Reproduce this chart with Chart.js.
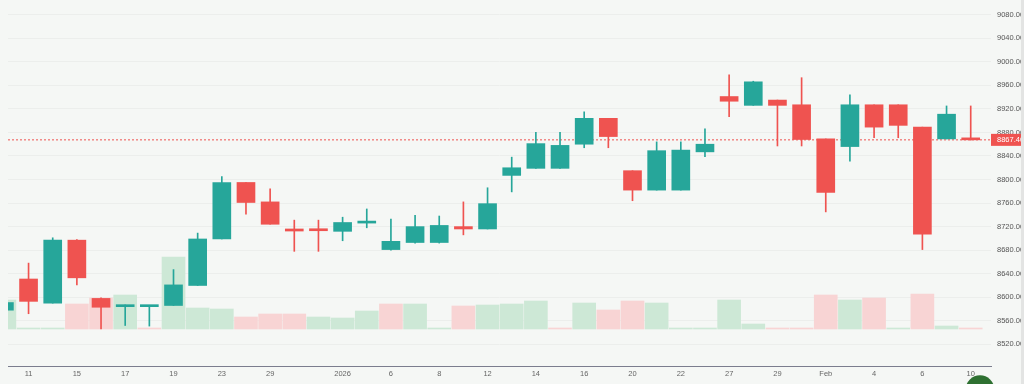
<!DOCTYPE html>
<html><head><meta charset="utf-8">
<script src="https://cdn.jsdelivr.net/npm/chart.js@4.4.1/dist/chart.umd.min.js"></script>
<style>html,body{margin:0;padding:0;background:#f5f7f5;overflow:hidden}#wrap{width:1024px;height:384px;position:relative}</style>
</head><body><div id="wrap"><canvas id="c" width="1024" height="384"></canvas></div>
<script>
// ---- data ----
const categories = ['Dec 10','Dec 11','Dec 12','Dec 15','Dec 16','Dec 17','Dec 18','Dec 19','Dec 22','Dec 23',
  'Dec 24','Dec 29','Dec 30','Dec 31','Jan 1','Jan 2','Jan 6','Jan 7','Jan 8','Jan 9',
  'Jan 12','Jan 13','Jan 14','Jan 15','Jan 16','Jan 19','Jan 20','Jan 21','Jan 22','Jan 23',
  'Jan 27','Jan 28','Jan 29','Jan 30','Feb 2','Feb 3','Feb 4','Feb 5','Feb 6','Feb 9','Feb 10'];
const tickLabels = ['','11','','15','','17','','19','','23',
  '','29','','','2026','','6','','8','',
  '12','','14','','16','','20','','22','',
  '27','','29','','Feb','','4','','6','','10'];
const open  = [8578,8631,8590,8697,8598,8584,8584,8586,8620,8699,
  8795,8762,8716,8716,8712,8726,8681,8693,8693,8720,
  8716,8807,8819,8819,8860,8904,8815,8782,8782,8847,
  8941,8926,8935,8927,8869,8856,8927,8927,8889,8869,8870.5];
const high  = [8592,8658,8701,8698,8599,8587,8586,8647,8709,8805,
  8795,8784,8731,8731,8736,8750,8733,8739,8738,8762,
  8786,8838,8880,8880,8915,8904,8815,8864,8864,8886,
  8978,8967,8935,8973,8869,8944,8927,8927,8889,8925,8925];
const low   = [8577,8572,8590,8621,8546,8552,8551,8586,8620,8699,
  8741,8724,8678,8678,8696,8718,8680,8692,8692,8706,
  8716,8779,8819,8819,8854,8854,8764,8782,8782,8839,
  8907,8926,8857,8857,8745,8831,8871,8871,8681,8869,8867];
const close = [8591,8593,8697,8633,8583,8586,8585,8621,8699,8795,
  8761,8724,8712.5,8713,8727,8728,8695,8720,8722,8716,
  8759,8820,8861,8858,8904,8873,8782,8849,8850,8860,
  8933,8966,8926,8868,8778,8927,8889,8892,8707,8911,8867.4];
const volumeK = [29,1,1,25,31,34,1,72,21,20,
  12,15,15,12,11,18,25,25,1,23,
  24,25,28,1,26,19,28,26,1,1,
  29,5,1,1,34,29,31,1,35,3,1];
const lastPrice = 8867.4;
const priceTicks = [8520,8560,8600,8640,8680,8720,8760,8800,8840,8880,8920,8960,9000,9040,9080];

// ---- styling ----
const UP = '#26a69a', DOWN = '#ef5350';
const VUP = '#cde8d6', VDOWN = '#f8d4d4';
const FONT = {family: 'Liberation Sans', size: 7.5};

const idx = categories.map((_, i) => i);
const bodyData = idx.map(i => ({x: i, y: [open[i], close[i]]}));
const wickData = idx.map(i => ({x: i, y: [low[i], high[i]]}));
const volData = idx.map(i => ({x: i, y: volumeK[i]}));
const candleColors = idx.map(i => close[i] >= open[i] ? UP : DOWN);
const volColors = idx.map(i => (i === 0 || close[i] >= close[i - 1]) ? VUP : VDOWN);

const X_MIN = 0.149, X_MAX = 40.84;

const decor = {
  id: 'decor',
  beforeDraw(chart) {
    const ctx = chart.ctx;
    ctx.save();
    ctx.fillStyle = '#f5f7f5';
    ctx.fillRect(0, 0, chart.width, chart.height);
    ctx.restore();
  },
  afterDraw(chart) {
    const ctx = chart.ctx;
    const y = chart.scales.y.getPixelForValue(lastPrice);
    const x0 = chart.chartArea.right;
    ctx.save();
    ctx.fillStyle = DOWN;
    ctx.fillRect(x0, y - 6, chart.width - x0, 12);
    ctx.fillStyle = '#ffffff';
    ctx.font = '7.5px "Liberation Sans"';
    ctx.textBaseline = 'middle';
    ctx.fillText(lastPrice.toFixed(2), x0 + 6, y + 0.5);
    ctx.fillStyle = '#e3e4e3';
    ctx.fillRect(1021, 0, 3, chart.height);
    ctx.fillStyle = '#2e7031';
    ctx.beginPath();
    ctx.arc(980, 389.5, 14.3, 0, Math.PI * 2);
    ctx.fill();
    ctx.restore();
  }
};

new Chart(document.getElementById('c'), {
  type: 'bar',
  data: {
    datasets: [
      { type: 'line', data: [{x: X_MIN, y: lastPrice}, {x: X_MAX, y: lastPrice}], yAxisID: 'y',
        borderColor: DOWN, borderWidth: 1, borderDash: [2, 2], pointRadius: 0, order: 5 },
      { label: 'Volume', data: volData, yAxisID: 'yv', backgroundColor: volColors,
        barThickness: 23, grouped: false, order: 4 },
      { label: 'Wick', data: wickData, yAxisID: 'y', backgroundColor: candleColors,
        barThickness: 1, grouped: false, order: 2 },
      { label: 'Body', data: bodyData, yAxisID: 'y', backgroundColor: candleColors,
        barThickness: 18, grouped: false, minBarLength: 2, order: 1 }
    ]
  },
  options: {
    responsive: false,
    animation: false,
    layout: { padding: { left: 8, right: 0, top: 0, bottom: 0 } },
    plugins: { legend: { display: false }, tooltip: { enabled: false } },
    scales: {
      x: {
        type: 'linear', min: X_MIN, max: X_MAX, offset: false,
        grid: { display: false, offset: false, drawTicks: false },
        border: { display: true, color: '#7b7d8e', width: 1 },
        afterBuildTicks: s => { s.ticks = tickLabels.map((t, i) => t ? {value: i} : null).filter(Boolean); },
        ticks: { autoSkip: false, maxRotation: 0, padding: 3, color: '#666', font: FONT,
          callback: v => tickLabels[v] },
        afterFit: s => { s.height = 18; s.paddingLeft = 0; s.paddingRight = 0; }
      },
      y: {
        position: 'right', min: 8483.2, max: 9105,
        grid: { color: '#eceeec', drawTicks: false },
        border: { display: false },
        afterBuildTicks: s => { s.ticks = priceTicks.map(v => ({value: v})); },
        ticks: { padding: 6, color: '#555', font: FONT, callback: v => Number(v).toFixed(2) },
        afterFit: s => { s.width = 33; s.paddingTop = 0; s.paddingBottom = 0; }
      },
      yv: { display: false, min: -37, max: 329 }
    }
  },
  plugins: [decor]
});
</script>
</body></html>
